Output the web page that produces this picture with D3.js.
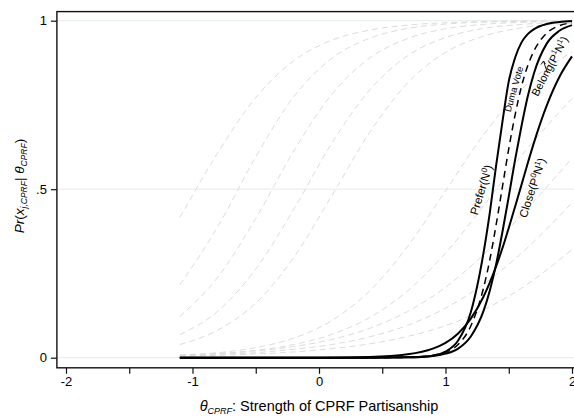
<!DOCTYPE html>
<html>
<head>
<meta charset="utf-8">
<script src="https://cdn.jsdelivr.net/npm/d3@7"></script>
<style>
  html, body { margin: 0; padding: 0; background: #fff; }
  svg { display: block; font-family: "Liberation Sans", Arial, sans-serif; }
</style>
</head>
<body>
<svg id="chart" width="574" height="417"></svg>
<script>
// theta grid + values (other items, grey dashed)
const grayTheta = [-1.1, -0.8, -0.5, -0.2, 0.1, 0.4, 0.7, 1.0, 1.3, 1.6, 2.0];
const grayItem1 = [0.416, 0.608, 0.772, 0.881, 0.942, 0.972, 0.987, 0.994, 0.997, 0.999, 1.0];
const grayItem2 = [0.216, 0.389, 0.596, 0.774, 0.888, 0.948, 0.977, 0.990, 0.996, 0.998, 0.999];
const grayItem3 = [0.122, 0.239, 0.413, 0.613, 0.781, 0.889, 0.947, 0.976, 0.989, 0.995, 0.998];
const grayItem4 = [0.068, 0.138, 0.263, 0.440, 0.636, 0.794, 0.896, 0.950, 0.977, 0.989, 0.996];
const grayItem5 = [0.039, 0.082, 0.162, 0.297, 0.480, 0.668, 0.815, 0.906, 0.954, 0.979, 0.992];
const grayItem6 = [0.008, 0.015, 0.030, 0.058, 0.110, 0.198, 0.330, 0.495, 0.661, 0.796, 0.907];
const grayItem7 = [0.007, 0.012, 0.022, 0.039, 0.069, 0.119, 0.198, 0.310, 0.450, 0.599, 0.769];
const grayItem8 = [0.007, 0.012, 0.020, 0.033, 0.054, 0.087, 0.137, 0.209, 0.306, 0.423, 0.592];
const grayItem9 = [0.006, 0.010, 0.015, 0.025, 0.039, 0.062, 0.096, 0.147, 0.218, 0.310, 0.460];
const grayItem10 = [0.005, 0.007, 0.011, 0.017, 0.027, 0.041, 0.063, 0.095, 0.142, 0.206, 0.321];

// highlighted items (black)
const blackTheta = [-1.1, -0.5, 0, 0.4, 0.7, 0.9, 1.0, 1.1, 1.2, 1.3, 1.35, 1.4, 1.45, 1.5, 1.55, 1.6, 1.65, 1.7, 1.8, 1.9, 2.0];
const preferVals = [0, 0, 0, 0, 0.001, 0.006, 0.018, 0.051, 0.135, 0.31, 0.43, 0.57, 0.70, 0.82, 0.89, 0.935, 0.96, 0.975, 0.99, 0.996, 0.999];
const dumaVals = [0, 0, 0, 0, 0.001, 0.007, 0.016, 0.039, 0.094, 0.206, 0.29, 0.394, 0.507, 0.62, 0.72, 0.804, 0.866, 0.911, 0.963, 0.985, 0.994];
const belongVals = [0, 0, 0, 0, 0.001, 0.005, 0.012, 0.027, 0.063, 0.138, 0.199, 0.277, 0.373, 0.478, 0.587, 0.686, 0.775, 0.845, 0.932, 0.970, 0.987];
const closeVals = [0, 0, 0, 0.002, 0.010, 0.027, 0.044, 0.072, 0.116, 0.181, 0.223, 0.271, 0.325, 0.385, 0.448, 0.512, 0.577, 0.639, 0.748, 0.833, 0.894];

// axes
const xTicks = [-2, -1, 0, 1, 2];
const xMinorTicks = [-1.5, -0.5, 0.5, 1.5];
const yTicks = [0, 0.5, 1];
const yTickLabels = ["0", ".5", "1"];

class ItemCurves {
  /* ===================================
   *  CONSTRUCTOR
   * =================================== */
  constructor(selector) {
    this.svg = d3.select(selector);
    this.setupScales();
    this.drawGrid();
    this.drawCurves();
    this.drawFrame();
    this.drawAxes();
    this.drawLabels();
  }

  /* ===================================
   *  METHODS
   * =================================== */
  setupScales() {
    this.x = d3.scaleLinear().domain([-2, 2]).range([66, 572]);
    this.y = d3.scaleLinear().domain([0, 1]).range([357.7, 20.7]);

    // plot region a bit wider than the data range (stata style)
    this.left = this.x(-2.072);
    this.right = this.x(2.072);
    this.top = this.y(1.027);
    this.bottom = this.y(-0.03);

    this.line = d3
      .line()
      .x((d) => this.x(d[0]))
      .y((d) => this.y(d[1]))
      .curve(d3.curveMonotoneX);
  }

  drawGrid() {
    this.svg
      .append("g")
      .selectAll("line")
      .data(yTicks)
      .join("line")
      .attr("x1", this.left)
      .attr("x2", this.right)
      .attr("y1", (d) => this.y(d))
      .attr("y2", (d) => this.y(d))
      .attr("stroke", "#e8f0f1")
      .attr("stroke-width", 1.2);
  }

  drawCurves() {
    const grays = [grayItem1, grayItem2, grayItem3, grayItem4, grayItem5,
      grayItem6, grayItem7, grayItem8, grayItem9, grayItem10];

    this.svg
      .append("g")
      .selectAll("path")
      .data(grays)
      .join("path")
      .attr("d", (vals) => this.line(grayTheta.map((t, i) => [t, vals[i]])))
      .attr("fill", "none")
      .attr("stroke", "#dcdcdc")
      .attr("stroke-width", 1)
      .attr("stroke-dasharray", "6,4");

    const blacks = [
      { vals: preferVals, dash: null, w: 2 },
      { vals: belongVals, dash: null, w: 2 },
      { vals: closeVals, dash: null, w: 2 },
      { vals: dumaVals, dash: "7,5", w: 1.5 },
    ];

    this.svg
      .append("g")
      .selectAll("path")
      .data(blacks)
      .join("path")
      .attr("d", (c) => this.line(blackTheta.map((t, i) => [t, c.vals[i]])))
      .attr("fill", "none")
      .attr("stroke", "#000")
      .attr("stroke-width", (c) => c.w)
      .attr("stroke-dasharray", (c) => c.dash);
  }

  drawFrame() {
    this.svg
      .append("rect")
      .attr("x", this.left)
      .attr("y", this.top)
      .attr("width", this.right - this.left)
      .attr("height", this.bottom - this.top)
      .attr("fill", "none")
      .attr("stroke", "#111")
      .attr("stroke-width", 1.4);
  }

  drawAxes() {
    const yAxis = this.svg
      .append("g")
      .attr("transform", `translate(${this.left},0)`)
      .call(
        d3.axisLeft(this.y)
          .tickValues(yTicks)
          .tickFormat((d, i) => yTickLabels[i])
          .tickSize(6)
          .tickPadding(4)
      );

    const xAxis = this.svg
      .append("g")
      .attr("transform", `translate(0,${this.bottom})`)
      .call(
        d3.axisBottom(this.x)
          .tickValues(xTicks)
          .tickFormat((d) => String(d))
          .tickSize(6)
          .tickPadding(3)
      );

    const xMinor = this.svg
      .append("g")
      .attr("transform", `translate(0,${this.bottom})`)
      .call(d3.axisBottom(this.x).tickValues(xMinorTicks).tickFormat("").tickSize(6));

    [yAxis, xAxis, xMinor].forEach((g) => {
      g.select(".domain").remove();
      g.selectAll(".tick line").attr("stroke", "#111").attr("stroke-width", 1.2);
      g.selectAll(".tick text")
        .attr("fill", "#000")
        .attr("font-size", 13)
        .attr("font-family", "'Liberation Sans', Arial, sans-serif");
    });
  }

  drawLabels() {
    // y title
    const yt = this.svg
      .append("text")
      .attr("transform", "translate(24,186) rotate(-90)")
      .attr("text-anchor", "middle")
      .attr("font-size", 13.5);
    yt.append("tspan").attr("font-style", "italic").text("Pr");
    yt.append("tspan").text("(");
    yt.append("tspan").attr("font-style", "italic").text("x");
    yt.append("tspan").attr("font-style", "italic").attr("font-size", 8.5).attr("dy", 3).text("j,CPRF");
    yt.append("tspan").attr("dy", -3).text("| ");
    yt.append("tspan").attr("font-style", "italic").text("θ");
    yt.append("tspan").attr("font-style", "italic").attr("font-size", 8.5).attr("dy", 3).text("CPRF");
    yt.append("tspan").attr("dy", -3).text(")");

    // x title
    const xt = this.svg
      .append("text")
      .attr("x", this.x(0))
      .attr("y", 411)
      .attr("text-anchor", "middle")
      .attr("font-size", 14.5);
    xt.append("tspan").attr("font-style", "italic").text("θ");
    xt.append("tspan").attr("font-style", "italic").attr("font-size", 9).attr("dy", 3).text("CPRF");
    xt.append("tspan").attr("dy", -3).text(": Strength of CPRF Partisanship");

    // curve labels
    const curveLabels = [
      { x: 485, y: 191, rot: -73, size: 11.5, parts: [["Prefer(N", 0], ["0", 1], [")", -1]] },
      { x: 517, y: 90, rot: -74, size: 9.5, parts: [["Duma Vote", 0]] },
      { x: 553, y: 68, rot: -62, size: 11, parts: [["Belong(P", 0], ["1", 1], ["N", -1], ["1", 1], [")", -1]] },
      { x: 536, y: 189, rot: -72, size: 11.5, parts: [["Close(P", 0], ["0", 1], ["N", -1], ["1", 1], [")", -1]] },
    ];

    curveLabels.forEach((lab) => {
      const t = this.svg
        .append("text")
        .attr("transform", `translate(${lab.x},${lab.y}) rotate(${lab.rot})`)
        .attr("text-anchor", "middle")
        .attr("dy", "0.35em")
        .attr("font-size", lab.size);
      lab.parts.forEach(([txt, shift]) => {
        t.append("tspan")
          .attr("font-size", shift === 1 ? lab.size * 0.7 : lab.size)
          .attr("dy", shift === 1 ? -4 : shift === -1 ? 4 : 0)
          .text(txt);
      });
    });

    // little arrow by the Belong label
    this.svg
      .append("path")
      .attr("d", "M547.5,73 L543.5,61 M541,64.5 L543.5,61 L545.5,64")
      .attr("fill", "none")
      .attr("stroke", "#000")
      .attr("stroke-width", 0.9);
  }
}

new ItemCurves("#chart");
</script>
</body>
</html>
